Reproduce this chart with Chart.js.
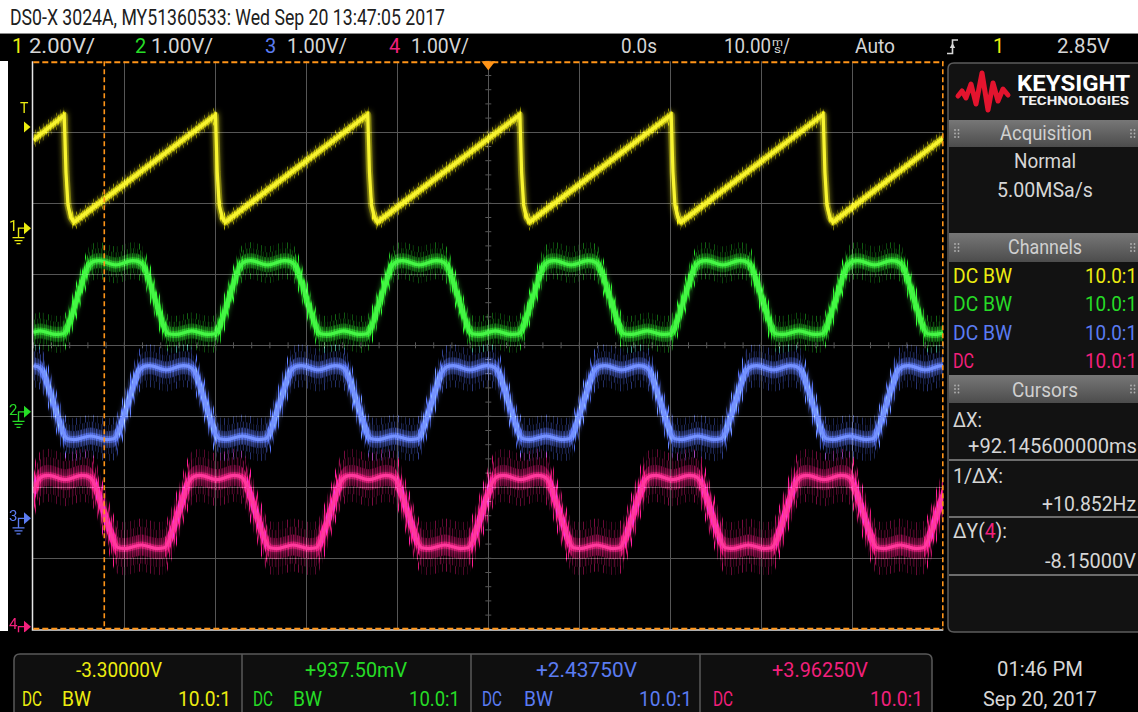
<!DOCTYPE html>
<html>
<head>
<meta charset="utf-8">
<script src="https://cdn.jsdelivr.net/npm/chart.js@4.4.1/dist/chart.umd.min.js"></script>
<style>
  html, body { margin: 0; padding: 0; background: #fff; }
  #wrap { position: relative; width: 1138px; height: 712px; overflow: hidden; }
  #chrome, #scope { position: absolute; left: 0; top: 0; }
  svg text { font-family: Roboto, "DejaVu Sans", sans-serif; }
</style>
</head>
<body>
<div id="wrap">
  <svg id="chrome" width="1138" height="712" xmlns="http://www.w3.org/2000/svg"></svg>
  <canvas id="scope" width="1138" height="712"></canvas>
</div>
<script>
// ---- Acquisition settings (as shown on screen) ----
const timePerDiv = 10;                       // ms / div
const channelScale  = [2.0, 1.0, 1.0, 1.0];  // V / div
const channelOffset = [-3.3, 0.9375, 2.4375, 3.9625]; // V at screen centre
const triggerLevel = 2.85;                   // V on channel 1
const cursorX1 = -42.2;                      // ms
const cursorDeltaX = 92.1456;                // ms
const cursorY1 = 8.0;                        // V on channel 4
const cursorDeltaY = -8.15;                  // V

// ---- Channel 1: sawtooth (time in ms, volts) ----
const ch1Time = [-50, -46.6, -46.41, -46.19, -45.86, -45.53,
  -29.98, -29.79, -29.57, -29.24, -28.91,
  -13.25, -13.06, -12.84, -12.51, -12.18,
  3.47, 3.66, 3.88, 4.21, 4.54,
  20.1, 20.29, 20.51, 20.84, 21.17,
  36.8, 36.99, 37.21, 37.54, 37.87, 50];
const ch1Volts = [2.48, 3.18, 1.58, 0.65, 0.3, 0.17,
  3.18, 1.58, 0.65, 0.3, 0.17,
  3.2, 1.58, 0.65, 0.3, 0.17,
  3.19, 1.58, 0.65, 0.3, 0.17,
  3.19, 1.58, 0.65, 0.3, 0.17,
  3.2, 1.58, 0.65, 0.3, 0.17, 2.54];

// ---- Channel 2: trapezoid ----
const ch2Time = [-50, -49.26, -47.48, -46.73, -46.28,
  -45.18, -44.08, -43.63, -42.78, -40.93, -39.08, -38.2, -37.75, -36.65, -35.55, -35.1, -34.35, -32.58, -30.8, -30.05, -29.6,
  -28.5, -27.4, -26.95, -26.1, -24.25, -22.4, -21.52, -21.07, -19.97, -18.87, -18.42, -17.67, -15.9, -14.12, -13.37, -12.92,
  -11.82, -10.72, -10.27, -9.42, -7.57, -5.72, -4.84, -4.39, -3.29, -2.19, -1.74, -0.99, 0.78, 2.56, 3.31, 3.76,
  4.86, 5.96, 6.41, 7.26, 9.11, 10.96, 11.84, 12.29, 13.39, 14.49, 14.94, 15.69, 17.46, 19.24, 19.99, 20.44,
  21.54, 22.64, 23.09, 23.94, 25.79, 27.64, 28.52, 28.97, 30.07, 31.17, 31.62, 32.37, 34.14, 35.92, 36.67, 37.12,
  38.22, 39.32, 39.77, 40.62, 42.47, 44.32, 45.2, 45.65, 46.75, 47.85, 48.3, 49.05, 50];
const ch2Volts = [1.12, 1.14, 1.09, 1.1, 1.18,
  1.6, 2.02, 2.1, 2.13, 2.07, 2.13, 2.1, 2.02, 1.6, 1.18, 1.1, 1.09, 1.14, 1.09, 1.1, 1.18,
  1.6, 2.02, 2.1, 2.13, 2.07, 2.13, 2.1, 2.02, 1.6, 1.18, 1.1, 1.09, 1.14, 1.09, 1.1, 1.18,
  1.6, 2.02, 2.1, 2.13, 2.07, 2.13, 2.1, 2.02, 1.6, 1.18, 1.1, 1.09, 1.14, 1.09, 1.1, 1.18,
  1.6, 2.02, 2.1, 2.13, 2.07, 2.13, 2.1, 2.02, 1.6, 1.18, 1.1, 1.09, 1.14, 1.09, 1.1, 1.18,
  1.6, 2.02, 2.1, 2.13, 2.07, 2.13, 2.1, 2.02, 1.6, 1.18, 1.1, 1.09, 1.14, 1.09, 1.1, 1.18,
  1.6, 2.02, 2.1, 2.13, 2.07, 2.13, 2.1, 2.02, 1.6, 1.18, 1.1, 1.09, 1.11];

// ---- Channel 3: trapezoid ----
const ch3Time = [-50, -49.32, -48.87, -47.77, -46.67, -46.22, -45.47, -43.7, -41.92, -41.17, -40.72,
  -39.62, -38.52, -38.07, -37.22, -35.37, -33.52, -32.64, -32.19, -31.09, -29.99, -29.54, -28.79, -27.02, -25.24, -24.49, -24.04,
  -22.94, -21.84, -21.39, -20.54, -18.69, -16.84, -15.96, -15.51, -14.41, -13.31, -12.86, -12.11, -10.34, -8.56, -7.81, -7.36,
  -6.26, -5.16, -4.71, -3.86, -2.01, -0.16, 0.72, 1.17, 2.27, 3.37, 3.82, 4.57, 6.34, 8.12, 8.87, 9.32,
  10.42, 11.52, 11.97, 12.82, 14.67, 16.52, 17.4, 17.85, 18.95, 20.05, 20.5, 21.25, 23.02, 24.8, 25.55, 26.0,
  27.1, 28.2, 28.65, 29.5, 31.35, 33.2, 34.08, 34.53, 35.63, 36.73, 37.18, 37.93, 39.7, 41.48, 42.23, 42.68,
  43.78, 44.88, 45.33, 46.18, 48.03, 49.88, 50];
const ch3Volts = [2.15, 2.12, 2.04, 1.62, 1.2, 1.12, 1.11, 1.16, 1.11, 1.12, 1.2,
  1.62, 2.04, 2.12, 2.15, 2.09, 2.15, 2.12, 2.04, 1.62, 1.2, 1.12, 1.11, 1.16, 1.11, 1.12, 1.2,
  1.62, 2.04, 2.12, 2.15, 2.09, 2.15, 2.12, 2.04, 1.62, 1.2, 1.12, 1.11, 1.16, 1.11, 1.12, 1.2,
  1.62, 2.04, 2.12, 2.15, 2.09, 2.15, 2.12, 2.04, 1.62, 1.2, 1.12, 1.11, 1.16, 1.11, 1.12, 1.2,
  1.62, 2.04, 2.12, 2.15, 2.09, 2.15, 2.12, 2.04, 1.62, 1.2, 1.12, 1.11, 1.16, 1.11, 1.12, 1.2,
  1.62, 2.04, 2.12, 2.15, 2.09, 2.15, 2.12, 2.04, 1.62, 1.2, 1.12, 1.11, 1.16, 1.11, 1.12, 1.2,
  1.62, 2.04, 2.12, 2.15, 2.09, 2.15, 2.15];

// ---- Channel 4: trapezoid ----
const ch4Time = [-50, -49.64, -49.19, -48.34, -46.49, -44.64, -43.76, -43.31, -42.21, -41.11, -40.66, -39.91, -38.14, -36.36, -35.61, -35.16,
  -34.06, -32.96, -32.51, -31.66, -29.81, -27.96, -27.08, -26.63, -25.53, -24.43, -23.98, -23.23, -21.46, -19.68, -18.93, -18.48,
  -17.38, -16.28, -15.83, -14.98, -13.13, -11.28, -10.4, -9.95, -8.85, -7.75, -7.3, -6.55, -4.78, -3.0, -2.25, -1.8,
  -0.7, 0.4, 0.85, 1.7, 3.55, 5.4, 6.28, 6.73, 7.83, 8.93, 9.38, 10.13, 11.9, 13.68, 14.43, 14.88,
  15.98, 17.08, 17.53, 18.38, 20.23, 22.08, 22.96, 23.41, 24.51, 25.61, 26.06, 26.81, 28.58, 30.36, 31.11, 31.56,
  32.66, 33.76, 34.21, 35.06, 36.91, 38.76, 39.64, 40.09, 41.19, 42.29, 42.74, 43.49, 45.26, 47.04, 47.79, 48.24,
  49.34, 50];
const ch4Volts = [1.88, 2.02, 2.1, 2.13, 2.07, 2.13, 2.1, 2.02, 1.6, 1.19, 1.11, 1.1, 1.15, 1.1, 1.11, 1.19,
  1.6, 2.02, 2.1, 2.13, 2.07, 2.13, 2.1, 2.02, 1.6, 1.19, 1.11, 1.1, 1.15, 1.1, 1.11, 1.19,
  1.6, 2.02, 2.1, 2.13, 2.07, 2.13, 2.1, 2.02, 1.6, 1.19, 1.11, 1.1, 1.15, 1.1, 1.11, 1.19,
  1.6, 2.02, 2.1, 2.13, 2.07, 2.13, 2.1, 2.02, 1.6, 1.19, 1.11, 1.1, 1.15, 1.1, 1.11, 1.19,
  1.6, 2.02, 2.1, 2.13, 2.07, 2.13, 2.1, 2.02, 1.6, 1.19, 1.11, 1.1, 1.15, 1.1, 1.11, 1.19,
  1.6, 2.02, 2.1, 2.13, 2.07, 2.13, 2.1, 2.02, 1.6, 1.19, 1.11, 1.1, 1.15, 1.1, 1.11, 1.19,
  1.6, 1.85];

// ---- Screen text ----
const Y = '#ecec10', G = '#26dc26', B = '#5b7cf2', P = '#f2207c', W = '#d6d6d6';
// [text, x, baseline, width (0 = natural), size, colour, weight]
const screenText = [
  ['DS0-X 3024A, MY51360533: Wed Sep 20 13:47:05 2017', 10, 24.5, 435, 22, '#202020'],
  ['1', 12, 53, 0, 20, Y], ['2.00V/', 29, 53, 66, 20, W],
  ['2', 135, 53, 0, 20, G], ['1.00V/', 151, 53, 62, 20, W],
  ['3', 265, 53, 0, 20, B], ['1.00V/', 287, 53, 60, 20, W],
  ['4', 389, 53, 0, 20, P], ['1.00V/', 411, 53, 58, 20, W],
  ['0.0s', 621, 53, 36, 20, W],
  ['10.00', 724, 53, 47, 20, W], ['m', 772, 45.5, 11, 10, W], ['s', 774, 53, 7, 10, W], ['/', 783, 53, 7, 20, W],
  ['Auto', 855, 53, 40, 20, W],
  ['1', 993, 53, 0, 20, Y], ['2.85V', 1057, 53, 53, 20, W],
  ['KEYSIGHT', 1017, 91, 113, 22, '#ffffff', 'bold'],
  ['TECHNOLOGIES', 1019, 105, 110, 12, '#f0f0f0', 'bold'],
  ['Acquisition', 1000, 140, 92, 21, '#d0d0d0'],
  ['Normal', 1014, 168, 62, 21, W],
  ['5.00MSa/s', 997, 197, 96, 21, W],
  ['Channels', 1008, 254, 74, 21, '#d0d0d0'],
  ['DC BW', 953, 283, 59, 21, Y], ['10.0:1', 1085, 283, 52, 21, Y],
  ['DC BW', 953, 311, 59, 21, G], ['10.0:1', 1085, 311, 52, 21, G],
  ['DC BW', 953, 340, 59, 21, B], ['10.0:1', 1085, 340, 52, 21, B],
  ['DC', 953, 368, 21, 21, P], ['10.0:1', 1085, 368, 52, 21, P],
  ['Cursors', 1012, 397, 66, 21, '#d0d0d0'],
  ['ΔX:', 953, 427, 29, 21, W],
  ['+92.145600000ms', 968, 453, 169, 21, W],
  ['1/ΔX:', 953, 483, 50, 21, W],
  ['+10.852Hz', 1042, 511, 94, 21, W],
  ['-8.15000V', 1045, 568, 91, 21, W],
  ['-3.30000V', 76, 676.5, 86, 21, Y],
  ['+937.50mV', 305, 676.5, 102, 21, G],
  ['+2.43750V', 536, 676.5, 101, 21, B],
  ['+3.96250V', 772, 676.5, 96, 21, P],
  ['DC', 22, 705.5, 20, 21, Y], ['BW', 62, 705.5, 29, 21, Y], ['10.0:1', 178, 705.5, 53, 21, Y],
  ['DC', 253, 705.5, 20, 21, G], ['BW', 293, 705.5, 29, 21, G], ['10.0:1', 409, 705.5, 51, 21, G],
  ['DC', 482, 705.5, 20, 21, B], ['BW', 524, 705.5, 29, 21, B], ['10.0:1', 639, 705.5, 53, 21, B],
  ['DC', 713, 705.5, 20, 21, P], ['10.0:1', 870, 705.5, 53, 21, P],
  ['01:46 PM', 997, 676, 86, 21, W],
  ['Sep 20, 2017', 983, 706, 114, 21, W]
];

// ---- Instrument frame (drawn as SVG behind the plot canvas) ----
(function buildChrome() {
  const svg = document.getElementById('chrome');
  let s = '';
  s += '<defs><linearGradient id="hdr" x1="0" y1="0" x2="0" y2="1">' +
       '<stop offset="0" stop-color="#777"/><stop offset="1" stop-color="#4c4c4c"/></linearGradient></defs>';
  s += '<rect x="0" y="0" width="1138" height="712" fill="#ffffff"/>';
  s += '<rect x="0" y="33" width="1138" height="679" fill="#000000"/>';
  s += '<line x1="0" y1="33.5" x2="1138" y2="33.5" stroke="#8a8a8a" stroke-width="1"/>';
  s += '<rect x="0" y="61" width="8" height="570" fill="#ffffff"/>';
  // side panel
  s += '<path d="M948 69 Q948 63 954 63 H1142 V632 H954 Q948 632 948 626 Z" fill="#121212" stroke="#5c5c5c" stroke-width="1.5"/>';
  s += '<polyline points="958,96 962,91 966,98 971,84 976,104 982,73 988,110 993,83 998,101 1003,89 1008,95" ' +
       'fill="none" stroke="#e3142e" stroke-width="5" stroke-linejoin="round" stroke-linecap="round"/>';
  [[120, 147], [233, 262], [375, 403]].forEach(([a, b]) => {
    s += `<rect x="949" y="${a}" width="189" height="${b - a}" fill="url(#hdr)"/>`;
    const cy = (a + b) / 2;
    [955, 958.5, 1131, 1134.5].forEach(x => {
      [-3.5, 0, 3.5].forEach(d => { s += `<circle cx="${x}" cy="${cy + d}" r="0.9" fill="#b0b0b0"/>`; });
    });
  });
  [460, 517, 575].forEach(y => {
    s += `<line x1="949" y1="${y}" x2="1138" y2="${y}" stroke="#8c8c8c" stroke-width="1.5"/>`;
  });
  // measurement strip
  s += '<path d="M14 716 V660 Q14 654 20 654 H926 Q932 654 932 660 V716" fill="#0f0f0f" stroke="#5a5a5a" stroke-width="1.5"/>';
  [242, 471, 700].forEach(x => { s += `<line x1="${x}" y1="654" x2="${x}" y2="712" stroke="#5a5a5a" stroke-width="1.5"/>`; });
  // trigger edge symbol
  s += '<path d="M947 53.5 H952.5 V40 H958" fill="none" stroke="#d6d6d6" stroke-width="1.6"/>' +
       '<path d="M949.8 48 L952.5 43 L955.2 48 Z" fill="#d6d6d6"/>';
  screenText.forEach(([t, x, y, w, size, fill, weight]) => {
    const len = w ? ` textLength="${w}" lengthAdjust="spacingAndGlyphs"` : '';
    s += `<text x="${x}" y="${y}" font-size="${size}" fill="${fill}"${weight ? ` font-weight="${weight}"` : ''}${len}>${t}</text>`;
  });
  s += `<text x="953" y="538" font-size="21" fill="${W}" textLength="54" lengthAdjust="spacingAndGlyphs">ΔY(<tspan fill="${P}">4</tspan>):</text>`;
  svg.innerHTML = s;
})();

// ---- Plot ----
const traceCore = ['#f8f430', '#46f646', '#7592ff', '#ff3a9c'];
const traceHaze = ['232,226,0', '40,222,40', '84,112,245', '238,24,124'];
const hazeReach = [8, 18, 21, 26];
const gridColor = '#565656';

function points(ts, vs) { return ts.map((t, i) => ({ x: t, y: vs[i] })); }

function stripes(ctx, rgb, alphas) {
  const c = document.createElement('canvas');
  c.width = alphas.length; c.height = 1;
  const g = c.getContext('2d');
  alphas.forEach((a, i) => { g.fillStyle = `rgba(${rgb},${a})`; g.fillRect(i, 0, 1, 1); });
  return ctx.createPattern(c, 'repeat');
}
const denseCols  = [0.9, 0.5, 0.7, 0.3, 1, 0.6, 0.4, 0.8, 0.5, 0.9, 0.3, 0.7, 1, 0.4, 0.6, 0.8, 0.35, 0.95, 0.55, 0.7, 0.45, 0.85, 0.6];
const midCols    = [0.8, 0.1, 0.5, 0, 0.2, 0.9, 0.3, 0, 0.6, 0.1, 0.2, 0.8, 0, 0.15, 0.7, 0.4, 0, 0.9, 0.1, 0.3, 0, 0.6, 0.1, 0, 0.8, 0.2, 0.5, 0, 0.3];
const sparseCols = [0, 0, 0.9, 0, 0, 0.1, 0.5, 0, 0, 0, 0, 0.8, 0, 0, 0.3, 0, 0, 0.1, 0, 0.7, 0, 0, 0, 0.4, 0, 0, 0.1, 0, 0.9, 0, 0, 0.2, 0, 0, 0, 0.6, 0];

const canvas = document.getElementById('scope');
const ctx = canvas.getContext('2d');

// Phosphor-like noise band: the trace path is restroked with vertical offsets.
const phosphor = {
  id: 'phosphor',
  beforeDatasetDraw(chart, args) {
    const ds = chart.data.datasets[args.index];
    const c = chart.ctx, a = chart.chartArea, line = args.meta.dataset;
    line.updateControlPoints(a, 'x');
    const pats = [stripes(c, ds.hazeRgb, denseCols), stripes(c, ds.hazeRgb, midCols), stripes(c, ds.hazeRgb, sparseCols)];
    const alpha = [0.42, 0.3, 0.38];
    c.save();
    c.beginPath(); c.rect(a.left, a.top, a.right - a.left, a.bottom - a.top); c.clip();
    c.globalCompositeOperation = 'lighter';
    c.lineWidth = 1.3; c.lineJoin = 'round';
    for (let dy = -ds.hazeReach; dy <= ds.hazeReach; dy++) {
      const r = Math.abs(dy) / ds.hazeReach;
      const tier = r < 0.4 ? 0 : (r < 0.7 ? 1 : 2);
      c.strokeStyle = pats[tier];
      c.globalAlpha = alpha[tier];
      c.save(); c.translate(0, dy);
      c.beginPath(); line.path(c); c.stroke();
      c.restore();
    }
    // soft halo right around the trace
    c.globalAlpha = 0.35;
    c.strokeStyle = `rgb(${ds.hazeRgb})`;
    c.lineWidth = 7;
    c.beginPath(); line.path(c); c.stroke();
    c.restore();
    c.save();
    c.shadowColor = ds.borderColor;
    c.shadowBlur = 6;
  },
  afterDatasetDraw(chart) { chart.ctx.restore(); },
  beforeDatasetsDraw(chart) {
    // minor ticks on the centre graticule lines
    const c = chart.ctx, xs = chart.scales.x, ys = chart.scales.yGrid;
    const cx = xs.getPixelForValue(0), cy = ys.getPixelForValue(0);
    c.save();
    c.strokeStyle = gridColor; c.lineWidth = 1;
    c.beginPath();
    for (let v = -4; v <= 4.001; v += 0.2) {
      const y = ys.getPixelForValue(v);
      c.moveTo(cx - 3, y); c.lineTo(cx + 3, y);
    }
    for (let t = -5 * timePerDiv; t <= 5 * timePerDiv + 0.001; t += timePerDiv / 5) {
      const x = xs.getPixelForValue(t);
      c.moveTo(x, cy - 3); c.lineTo(x, cy + 3);
    }
    c.stroke();
    c.restore();
  },
  afterDatasetsDraw(chart) {
    const c = chart.ctx, a = chart.chartArea, xs = chart.scales.x;
    c.save();
    // frame
    c.strokeStyle = '#e6e6e6'; c.lineWidth = 1.5;
    c.beginPath();
    c.moveTo(a.left - 0.8, a.top); c.lineTo(a.left - 0.8, a.bottom + 0.8);
    c.lineTo(a.right, a.bottom + 0.8);
    c.stroke();
    // cursors
    c.strokeStyle = '#ff9418'; c.lineWidth = 2; c.setLineDash([6, 3]);
    const y4 = chart.scales.y4;
    const yTop = Math.max(a.top + 1, y4.getPixelForValue(cursorY1));
    const yBot = Math.min(a.bottom - 0.5, y4.getPixelForValue(cursorY1 + cursorDeltaY));
    c.beginPath();
    c.moveTo(a.left, yTop); c.lineTo(a.right, yTop);
    c.moveTo(a.left, yBot); c.lineTo(a.right, yBot);
    c.stroke();
    c.lineWidth = 1.6; c.setLineDash([5, 3]);
    const x1 = xs.getPixelForValue(cursorX1);
    const x2 = Math.min(a.right - 0.5, xs.getPixelForValue(cursorX1 + cursorDeltaX));
    c.beginPath();
    c.moveTo(x1, a.top); c.lineTo(x1, a.bottom);
    c.moveTo(x2, a.top); c.lineTo(x2, a.bottom);
    c.stroke();
    c.setLineDash([]);
    // trigger time marker
    const tx = xs.getPixelForValue(0);
    c.fillStyle = '#ff9418';
    c.beginPath(); c.moveTo(tx - 7, a.top); c.lineTo(tx + 7, a.top); c.lineTo(tx, a.top + 9); c.closePath(); c.fill();
    // channel ground markers and trigger level
    c.beginPath(); c.rect(0, a.top - 8, a.left, a.bottom - a.top + 11); c.clip();
    const marks = [['1', 'y1', Y], ['2', 'y2', G], ['3', 'y3', B], ['4', 'y4', P]];
    c.font = '15px Roboto, "DejaVu Sans", sans-serif';
    c.textBaseline = 'middle'; c.textAlign = 'left';
    marks.forEach(([label, id, col]) => {
      const y = chart.scales[id].getPixelForValue(0);
      c.fillStyle = col; c.strokeStyle = col; c.lineWidth = 1.4;
      c.fillText(label, 9, y - 1);
      c.beginPath();
      c.moveTo(24, y); c.lineTo(18.5, y); c.lineTo(18.5, y + 9);
      c.moveTo(12.5, y + 9.5); c.lineTo(24.5, y + 9.5);
      c.moveTo(14.5, y + 12.5); c.lineTo(22.5, y + 12.5);
      c.moveTo(16.5, y + 15.5); c.lineTo(20.5, y + 15.5);
      c.stroke();
      c.beginPath(); c.moveTo(24, y - 6); c.lineTo(31, y); c.lineTo(24, y + 6); c.closePath(); c.fill();
    });
    const ty = chart.scales.y1.getPixelForValue(triggerLevel);
    c.fillStyle = Y;
    c.font = '14px Roboto, "DejaVu Sans", sans-serif';
    c.fillText('T', 20, ty - 17);
    c.beginPath(); c.moveTo(24, ty - 5.5); c.lineTo(30.5, ty); c.lineTo(24, ty + 5.5); c.closePath(); c.fill();
    c.restore();
  }
};

function channelAxis(i) {
  return {
    type: 'linear', display: false,
    min: channelOffset[i] - 4 * channelScale[i],
    max: channelOffset[i] + 4 * channelScale[i]
  };
}
const hideEdge = (c) => (Math.abs(c.tick.value) >= (c.scale.max - 1e-6) ? 'rgba(0,0,0,0)' : gridColor);

const series = [[ch1Time, ch1Volts], [ch2Time, ch2Volts], [ch3Time, ch3Volts], [ch4Time, ch4Volts]];

new Chart(ctx, {
  type: 'line',
  data: {
    datasets: series.map(([ts, vs], i) => ({
      label: 'Channel ' + (i + 1),
      data: points(ts, vs),
      yAxisID: 'y' + (i + 1),
      borderColor: traceCore[i],
      borderWidth: 3.2,
      pointRadius: 0,
      fill: false,
      tension: 0,
      cubicInterpolationMode: i === 0 ? 'default' : 'monotone',
      hazeRgb: traceHaze[i],
      hazeReach: hazeReach[i]
    }))
  },
  options: {
    responsive: false,
    animation: false,
    devicePixelRatio: 1,
    layout: { padding: { left: 33.3, top: 61.3, right: 1138 - 943.3, bottom: 712 - 629.3 } },
    plugins: { legend: { display: false }, tooltip: { enabled: false } },
    events: [],
    scales: {
      x: {
        type: 'linear', min: -5 * timePerDiv, max: 5 * timePerDiv,
        ticks: { display: false, stepSize: timePerDiv },
        grid: { color: hideEdge, lineWidth: 1, drawTicks: false },
        border: { display: false }
      },
      yGrid: {
        type: 'linear', position: 'left', min: -4, max: 4,
        ticks: { display: false, stepSize: 1 },
        grid: { color: hideEdge, lineWidth: 1, drawTicks: false },
        border: { display: false }
      },
      y1: channelAxis(0), y2: channelAxis(1), y3: channelAxis(2), y4: channelAxis(3)
    }
  },
  plugins: [phosphor]
});
</script>
</body>
</html>
